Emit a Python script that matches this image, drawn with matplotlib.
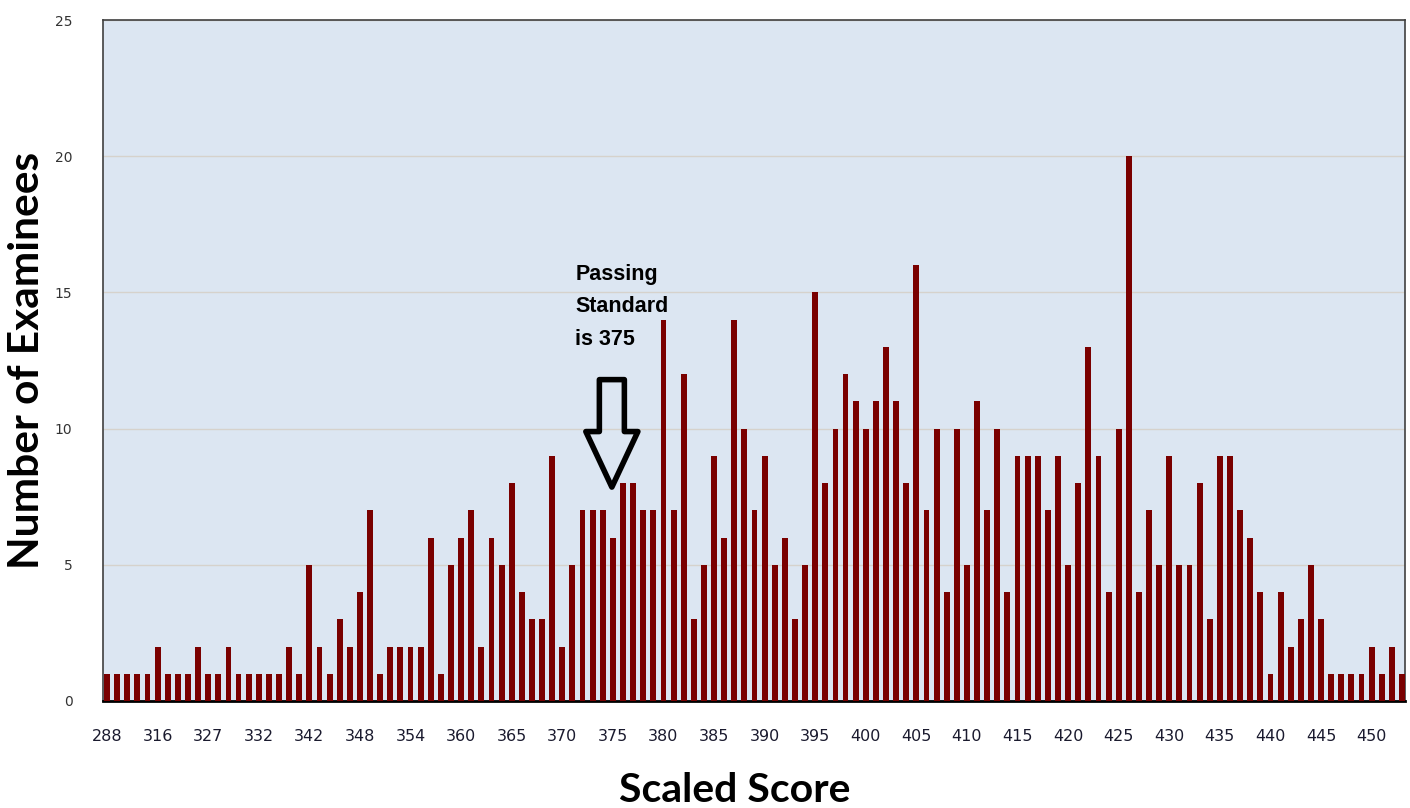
import numpy as np
import matplotlib.pyplot as plt

# examinee counts per score bar, left to right
counts = [1, 1, 1, 1, 1, 2, 1, 1, 1, 2, 1, 1, 2, 1, 1, 1, 1, 1, 2, 1,
          5, 2, 1, 3, 2, 4,
          7, 1, 2, 2, 2, 2, 6, 1, 5, 6, 7, 2, 6, 5, 8, 4, 3, 3, 9, 2, 5, 7, 7, 7, 6, 8,
          8, 7, 7, 14, 7, 12, 3, 5, 9, 6, 14, 10, 7, 9, 5, 6, 3, 5, 15, 8, 10, 12, 11, 10, 11, 13,
          11, 8, 16, 7, 10, 4, 10, 5, 11, 7, 10, 4, 9, 9, 9, 7, 9,
          5, 8, 13, 9, 4, 10, 20, 4, 7, 5, 9, 5, 5, 8, 3, 9, 9, 7, 6, 4, 1, 4, 2, 3, 5, 3,
          1, 1, 1, 1, 2, 1, 2, 1]

# labelled scores, one every 5 bars
tick_labels = ['288', '316', '327', '332', '342', '348', '354', '360', '365', '370',
               '375', '380', '385', '390', '395', '400', '405', '410', '415', '420',
               '425', '430', '435', '440', '445', '450']

x = np.arange(len(counts))

fig = plt.figure(figsize=(14.1, 8.08), dpi=100)
ax = fig.add_axes([103 / 1410, 1 - 701 / 808, 1302 / 1410, 681 / 808])
ax.set_facecolor('#dce6f2')

ax.bar(x, counts, width=0.58, color='#7a0000', zorder=3)

ax.set_xlim(-0.4, 128.3)
ax.set_ylim(0, 25)
ax.set_yticks([0, 5, 10, 15, 20, 25])
ax.set_xticks(x[::5])
ax.set_xticklabels(tick_labels)
ax.tick_params(axis='y', length=0, pad=22, labelsize=10, labelcolor='#333333')
ax.tick_params(axis='x', length=0, pad=20, labelsize=11.5, labelcolor='#1a1a2e')
ax.yaxis.grid(True, color='#d6d2cc', lw=1, zorder=0)

for side in ['top', 'right', 'left']:
    ax.spines[side].set_color('#404040')
    ax.spines[side].set_linewidth(1.2)
ax.spines['bottom'].set_color('black')
ax.spines['bottom'].set_linewidth(2)

fig.text(27 / 1410, 1 - 360 / 808, 'Number of Examinees', rotation=90, ha='center', va='center',
         fontsize=30.5, fontweight='bold', family='Lato')
fig.text(735 / 1410, 1 - 790 / 808, 'Scaled Score', ha='center', va='center',
         fontsize=29.5, fontweight='bold', family='Lato')

# passing standard note and hollow arrow
ax.text(46.3, 16.05, 'Passing\nStandard\nis 375', ha='left', va='top', fontsize=15.5,
        fontweight='bold', family='Liberation Sans', linespacing=1.72, zorder=5)
ax.annotate('', xy=(49.9, 7.75), xytext=(49.9, 11.9),
            arrowprops=dict(arrowstyle='simple,head_length=1.6,head_width=1.5,tail_width=0.72',
                            fc='none', ec='black', lw=4, mutation_scale=25),
            zorder=5)

fig.savefig('out.png', dpi=100)
